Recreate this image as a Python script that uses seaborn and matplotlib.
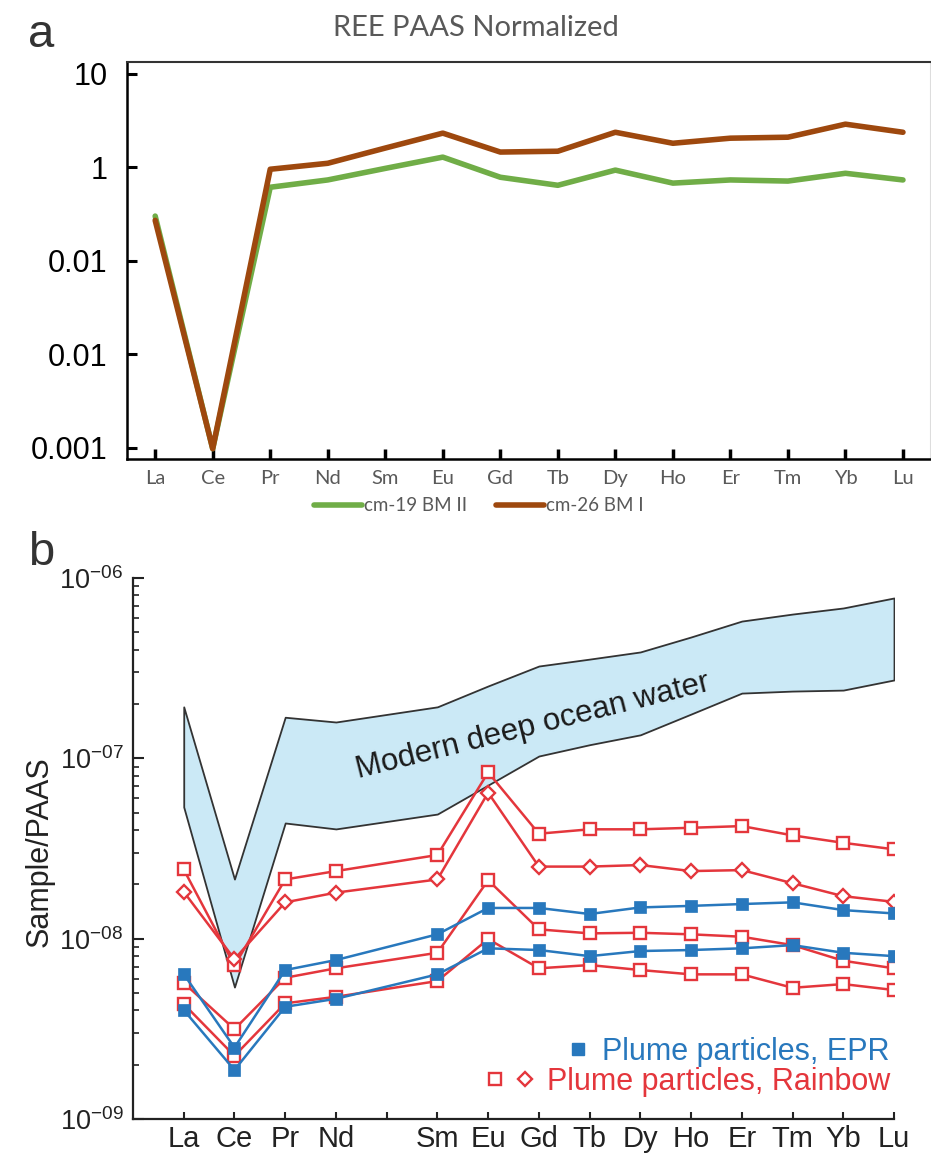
import numpy as np
import matplotlib
matplotlib.use("Agg")
import matplotlib.pyplot as plt
import seaborn as sns
from matplotlib.lines import Line2D
from matplotlib.legend_handler import HandlerTuple
from matplotlib.ticker import LogLocator, NullLocator, NullFormatter, FixedLocator

# ---------------- data ----------------
# panel a
ree_a = ["La", "Ce", "Pr", "Nd", "Sm", "Eu", "Gd", "Tb", "Dy", "Ho", "Er", "Tm", "Yb", "Lu"]
cm19_bm2 = [0.30, 0.00098, 0.61, 0.73, 0.97, 1.28, 0.78, 0.64, 0.93, 0.675, 0.73, 0.71, 0.86, 0.73]
cm26_bm1 = [0.27, 0.00098, 0.95, 1.10, 1.60, 2.31, 1.45, 1.48, 2.36, 1.80, 2.04, 2.09, 2.88, 2.36]
a_ytick_values = [10, 1, 0.1, 0.01, 0.001]
a_ytick_labels = ["10", "1", "0.01", "0.01", "0.001"]
a_series_labels = ["cm-19 BM II", "cm-26 BM I"]

# panel b
b_elements = ["La", "Ce", "Pr", "Nd", "Sm", "Eu", "Gd", "Tb", "Dy", "Ho", "Er", "Tm", "Yb", "Lu"]
b_atomic_numbers = [57, 58, 59, 60, 62, 63, 64, 65, 66, 67, 68, 69, 70, 71]
b_tick_numbers = list(range(57, 72))
b_tick_labels = ["La", "Ce", "Pr", "Nd", "", "Sm", "Eu", "Gd", "Tb", "Dy", "Ho", "Er", "Tm", "Yb", "Lu"]
ocean_upper = [1.93e-7, 2.14e-8, 1.69e-7, 1.59e-7, 1.93e-7, 2.52e-7, 3.25e-7, 3.55e-7,
               3.89e-7, 4.71e-7, 5.77e-7, 6.31e-7, 6.82e-7, 7.75e-7]
ocean_lower = [5.37e-8, 5.39e-9, 4.38e-8, 4.06e-8, 4.91e-8, 7.11e-8, 1.03e-7, 1.19e-7,
               1.35e-7, 1.76e-7, 2.30e-7, 2.36e-7, 2.39e-7, 2.72e-7]
rainbow_sq1 = [2.42e-8, 7.1e-9, 2.13e-8, 2.37e-8, 2.91e-8, 8.36e-8, 3.82e-8, 4.04e-8,
               4.04e-8, 4.12e-8, 4.21e-8, 3.74e-8, 3.40e-8, 3.13e-8]
rainbow_dia = [1.82e-8, 7.7e-9, 1.59e-8, 1.80e-8, 2.13e-8, 6.45e-8, 2.51e-8, 2.51e-8,
               2.56e-8, 2.37e-8, 2.40e-8, 2.03e-8, 1.72e-8, 1.60e-8]
rainbow_sq2 = [5.69e-9, 3.15e-9, 6.07e-9, 6.85e-9, 8.35e-9, 2.11e-8, 1.126e-8, 1.07e-8,
               1.078e-8, 1.057e-8, 1.025e-8, 9.21e-9, 7.54e-9, 6.85e-9]
rainbow_sq3 = [4.34e-9, 2.24e-9, 4.38e-9, 4.76e-9, 5.82e-9, 9.95e-9, 6.85e-9, 7.14e-9,
               6.70e-9, 6.34e-9, 6.34e-9, 5.34e-9, 5.60e-9, 5.19e-9]
epr_1 = [6.36e-9, 2.49e-9, 6.70e-9, 7.61e-9, 1.057e-8, 1.48e-8, 1.48e-8, 1.37e-8,
         1.49e-8, 1.52e-8, 1.556e-8, 1.59e-8, 1.44e-8, 1.38e-8]
epr_2 = [4.02e-9, 1.87e-9, 4.19e-9, 4.64e-9, 6.34e-9, 8.84e-9, 8.65e-9, 8.0e-9,
         8.54e-9, 8.65e-9, 8.84e-9, 9.21e-9, 8.35e-9, 8.0e-9]
b_ytick_values = [1e-9, 1e-8, 1e-7, 1e-6]
b_ytick_labels = [r"$\mathregular{10^{-09}}$", r"$\mathregular{10^{-08}}$",
                  r"$\mathregular{10^{-07}}$", r"$\mathregular{10^{-06}}$"]

# ---------------- style ----------------
sns.set_style("ticks")
plt.rcParams['font.family'] = ['Liberation Sans', 'DejaVu Sans']
plt.rcParams['mathtext.fontset'] = 'custom'
plt.rcParams['mathtext.rm'] = 'Liberation Sans'

GREEN = "#70AD47"
BROWN = "#9E480E"
RED = "#E4363C"
BLUE = "#2878BD"
BAND = "#CBE9F6"
GREY_TXT = "#595959"

fig = plt.figure(figsize=(9.31, 11.55), dpi=100)
axa = fig.add_axes([127 / 931, 1 - 459 / 1155, 803 / 931, 397 / 1155])
axb = fig.add_axes([133 / 931, 1 - 1119 / 1155, 761 / 931, 541 / 1155])

# ---------------- panel a ----------------
xa = np.arange(len(ree_a))
sns.lineplot(x=xa, y=cm19_bm2, ax=axa, color=GREEN, lw=4, label=a_series_labels[0], sort=False)
sns.lineplot(x=xa, y=cm26_bm1, ax=axa, color=BROWN, lw=4, label=a_series_labels[1], sort=False)
axa.set_yscale('log')
axa.set_ylim(7.6e-4, 13.3)
axa.set_xlim(-0.49, 13.47)
axa.yaxis.set_major_locator(FixedLocator(a_ytick_values))
axa.set_yticklabels(a_ytick_labels)
axa.yaxis.set_minor_locator(NullLocator())
axa.set_xticks(xa)
axa.set_xticklabels(ree_a)
axa.tick_params(axis='y', direction='in', length=7, width=2.2, pad=14, labelsize=22,
                labelcolor='black', color='black')
axa.tick_params(axis='x', direction='in', length=7, width=2.5, pad=8, labelsize=14.5,
                labelcolor=GREY_TXT, color='black')
for lab in axa.get_xticklabels():
    lab.set_fontfamily('Lato')
for s in ['left', 'bottom']:
    axa.spines[s].set_color('black')
    axa.spines[s].set_linewidth(1.8)
axa.spines['top'].set_color('#333333')
axa.spines['top'].set_linewidth(1.5)
axa.spines['right'].set_color('#dddddd')
axa.spines['right'].set_linewidth(0.8)
axa.set_xlabel("")
axa.set_ylabel("")
axa.legend(loc='center', bbox_to_anchor=(0.438, -0.118), ncol=2, frameon=False,
           prop={'family': 'Lato', 'size': 13.5}, handlelength=2.6, handletextpad=0.1,
           columnspacing=1.5, labelcolor=GREY_TXT)

fig.text(476 / 931, 1 - 28 / 1155, "REE PAAS Normalized", ha='center', va='center',
         fontsize=21, color=GREY_TXT, family='Lato')
fig.text(28 / 931, 1 - 47 / 1155, "a", ha='left', va='baseline', fontsize=34, color='#333333')
fig.text(28 / 931, 1 - 565 / 1155, "b", ha='left', va='baseline', fontsize=34, color='#333333')

# ---------------- panel b ----------------
xb = np.array(b_atomic_numbers)
axb.fill_between(xb, ocean_lower, ocean_upper, facecolor=BAND, edgecolor='#333333', lw=1.3, zorder=1)

red_series = [(rainbow_sq1, 's'), (rainbow_dia, 'D'), (rainbow_sq2, 's'), (rainbow_sq3, 's')]
for vals, mk in red_series:
    sns.lineplot(x=xb, y=vals, ax=axb, color=RED, lw=1.8, marker=mk,
                 markersize=8.5 if mk == 's' else 7.5, markerfacecolor='white',
                 markeredgecolor=RED, markeredgewidth=1.7, sort=False, zorder=3)
for vals in [epr_1, epr_2]:
    sns.lineplot(x=xb, y=vals, ax=axb, color=BLUE, lw=1.8, marker='s', markersize=8.5,
                 markerfacecolor=BLUE, markeredgecolor=BLUE, markeredgewidth=0.5,
                 sort=False, zorder=4)

axb.set_yscale('log')
axb.set_ylim(1e-9, 1e-6)
axb.set_xlim(56, 71)
axb.yaxis.set_major_locator(FixedLocator(b_ytick_values))
axb.set_yticklabels(b_ytick_labels)
axb.yaxis.set_minor_locator(LogLocator(base=10, subs=np.arange(2, 10)))
axb.yaxis.set_minor_formatter(NullFormatter())
axb.set_xticks(b_tick_numbers)
axb.set_xticklabels(b_tick_labels)
axb.tick_params(axis='x', direction='in', length=5, width=1.5, pad=4, labelsize=21,
                labelcolor='#222222', color='#222222')
axb.tick_params(axis='y', which='major', direction='in', length=8, width=1.5, pad=7,
                labelsize=19.5, labelcolor='#222222', color='#222222')
axb.tick_params(axis='y', which='minor', direction='in', length=4, width=1.2, color='#222222')
sns.despine(ax=axb)
for s in ['left', 'bottom']:
    axb.spines[s].set_color('#222222')
    axb.spines[s].set_linewidth(1.6)
axb.set_xlabel("")
axb.set_ylabel("Sample/PAAS", fontsize=22, color='#222222')
axb.yaxis.set_label_coords(-0.1025, 0.4935)

axb.text(63.89, 1.51e-7, "Modern deep ocean water", rotation=14, ha='center', va='center',
         rotation_mode='anchor', fontsize=22.5, color='#1a1a1a', zorder=2)

h_epr = Line2D([], [], ls='', marker='s', markersize=8.5, markerfacecolor=BLUE, markeredgecolor=BLUE)
h_sq = Line2D([], [], ls='', marker='s', markersize=8.5, markerfacecolor='white',
              markeredgecolor=RED, markeredgewidth=1.7)
h_di = Line2D([], [], ls='', marker='D', markersize=7.5, markerfacecolor='white',
              markeredgecolor=RED, markeredgewidth=1.7)
leg1 = axb.legend([h_epr], ["Plume particles, EPR"], loc='center right',
                  bbox_to_anchor=(0.9947, 0.1238), frameon=False, fontsize=22,
                  handlelength=0.6, handletextpad=0.5, borderpad=0, borderaxespad=0,
                  labelcolor=BLUE)
axb.add_artist(leg1)
axb.legend([(h_sq, h_di)], ["Plume particles, Rainbow"], loc='center right',
           bbox_to_anchor=(0.9947, 0.0684), frameon=False, fontsize=22,
           handlelength=1.4, handletextpad=0.5, borderpad=0, borderaxespad=0,
           labelcolor=RED, handler_map={tuple: HandlerTuple(ndivide=None, pad=0.6)})

fig.savefig("out.png", dpi=100)
